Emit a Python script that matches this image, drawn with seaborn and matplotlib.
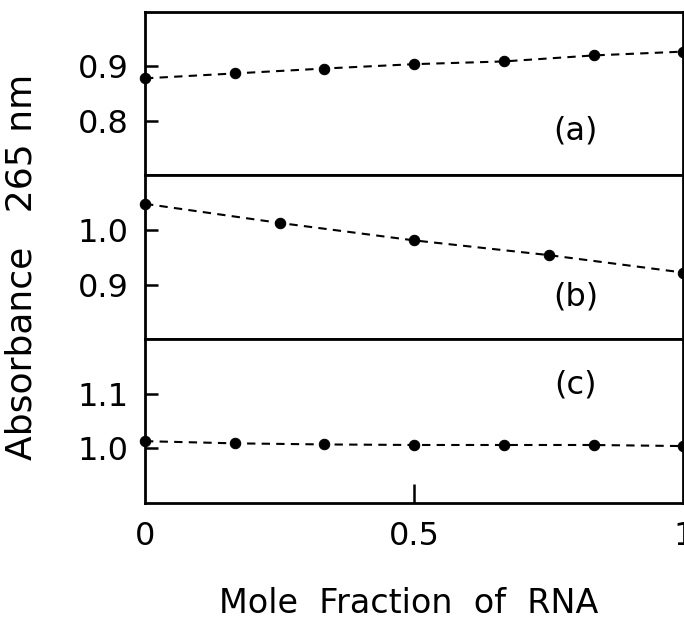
import numpy as np
import pandas as pd
import matplotlib
matplotlib.use("Agg")
import matplotlib.pyplot as plt
import seaborn as sns

# Data
x_a = [0, 1/6, 1/3, 1/2, 2/3, 5/6, 1]
y_a = [0.878, 0.887, 0.896, 0.904, 0.909, 0.920, 0.927]
x_b = [0, 0.25, 0.5, 0.75, 1]
y_b = [1.048, 1.013, 0.981, 0.954, 0.922]
x_c = [0, 1/6, 1/3, 1/2, 2/3, 5/6, 1]
y_c = [1.013, 1.009, 1.007, 1.006, 1.006, 1.006, 1.004]

panel_labels = ["(a)", "(b)", "(c)"]
ylims = [(0.70, 1.0), (0.8, 1.1), (0.9, 1.2)]
yticks = [[0.8, 0.9], [0.9, 1.0], [1.0, 1.1]]
xticks = [0, 0.5, 1]
xticklabels = ["0", "0.5", "1"]

sns.set_style("ticks")
plt.rcParams["font.family"] = ["DejaVu Sans"]
plt.rcParams["text.color"] = "black"
plt.rcParams["axes.labelcolor"] = "black"
plt.rcParams["xtick.color"] = "black"
plt.rcParams["ytick.color"] = "black"

fig, axes = plt.subplots(3, 1, figsize=(6.84, 6.2), dpi=100, sharex=True)
fig.subplots_adjust(left=0.212, right=0.999, top=0.981, bottom=0.189, hspace=0)

series = [(x_a, y_a), (x_b, y_b), (x_c, y_c)]
label_pos = [(0.80, 0.27), (0.80, 0.26), (0.80, 0.72)]
for ax, (xs, ys), lab, yl, yt, lp in zip(axes, series, panel_labels, ylims, yticks, label_pos):
    df = pd.DataFrame({"x": xs, "y": ys})
    sns.lineplot(data=df, x="x", y="y", ax=ax, color="black", linewidth=1.5,
                 dashes=False, linestyle=(0, (4, 3)), marker="o", markersize=7.5,
                 markeredgecolor="black", markerfacecolor="black", clip_on=False, zorder=5)
    ax.set_xlim(0, 1)
    ax.set_ylim(*yl)
    ax.set_yticks(yt)
    ax.set_yticklabels([f"{v:.1f}" for v in yt])
    ax.set_xlabel("")
    ax.set_ylabel("")
    for s in ax.spines.values():
        s.set_visible(True)
        s.set_linewidth(2.0)
        s.set_color("black")
    ax.tick_params(axis="y", direction="in", length=9, width=1.8, labelsize=23, pad=12)
    ax.tick_params(axis="x", direction="in", length=12, width=1.8, labelsize=23, pad=13)
    ax.text(lp[0], lp[1], lab, transform=ax.transAxes, fontsize=23, ha="center", va="center")

for ax in axes[:-1]:
    ax.tick_params(axis="x", length=0)
axes[-1].set_xticks(xticks)
axes[-1].set_xticklabels(xticklabels)
axes[-1].tick_params(axis="x", which="both", length=14)
# only the tick at 0.5 is drawn inside the frame
for t, v in zip(axes[-1].xaxis.get_major_ticks(), xticks):
    if v != 0.5:
        t.tick1line.set_visible(False)

fig.text(0.597, 0.027, "Mole  Fraction  of  RNA", fontsize=24, ha="center", va="center")
fig.text(0.032, 0.569, "Absorbance   265 nm", fontsize=26, ha="center", va="center", rotation=90)

fig.savefig("out.png", dpi=100, facecolor="white")
